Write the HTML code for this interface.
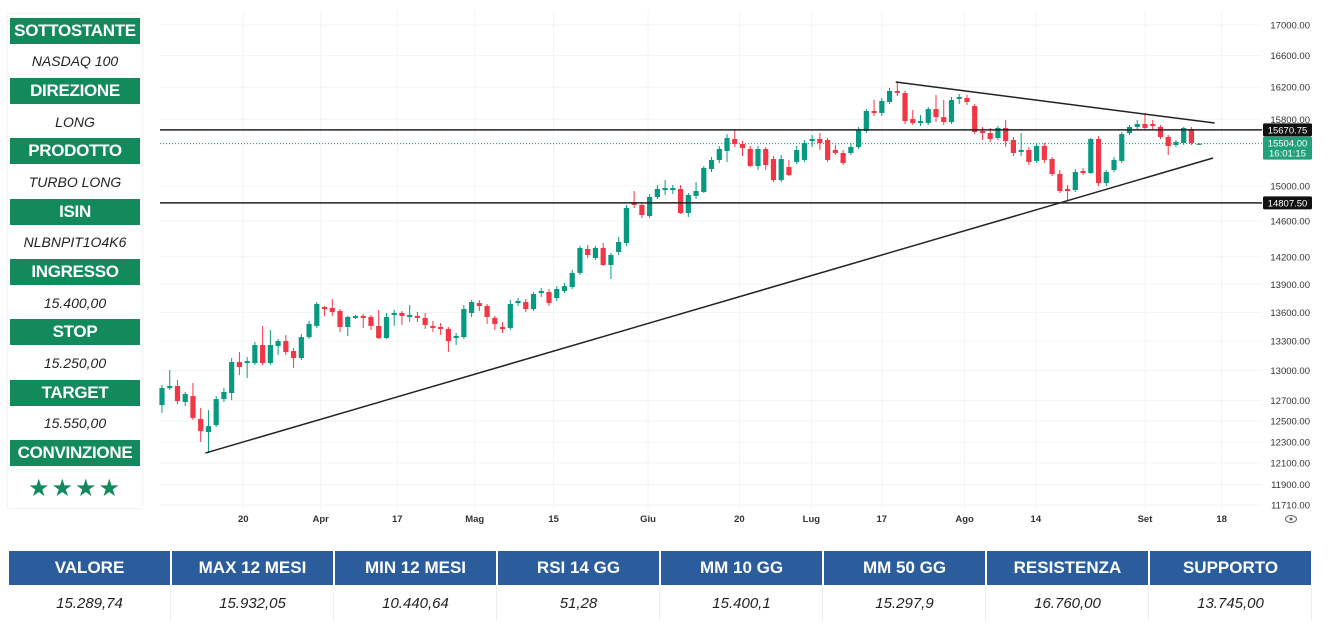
<!DOCTYPE html>
<html><head><meta charset="utf-8"><style>
body{margin:0;width:1329px;height:624px;background:#fff;overflow:hidden;font-family:"Liberation Sans",sans-serif;position:relative}
#panel{position:absolute;left:8px;top:14px;width:134px;height:494px;background:#fff;box-shadow:0 0 2px #ddd}
.ph{position:absolute;left:2px;width:130px;height:26px;background:#128a5c;color:#fff;font-weight:bold;font-size:17px;text-align:center;line-height:26px;letter-spacing:-0.3px}
.pv{position:absolute;left:2px;width:130px;height:30px;color:#222;font-style:italic;font-size:14px;text-align:center;line-height:30px}
#tbl{position:absolute;left:9px;top:551px;width:1304px}
.th{position:absolute;top:0;height:34px;width:161px;background:#2b5d9c;color:#fff;font-weight:bold;font-size:17px;text-align:center;line-height:34px}
.td{position:absolute;top:36px;height:34px;width:161px;color:#222;font-style:italic;font-size:15px;text-align:center;line-height:34px;border-right:1px solid #eee}
</style></head><body>
<div id="panel">
<div class="ph" style="top:4px">SOTTOSTANTE</div>
<div class="pv" style="top:32px">NASDAQ 100</div>
<div class="ph" style="top:64px">DIREZIONE</div>
<div class="pv" style="top:93px">LONG</div>
<div class="ph" style="top:124px">PRODOTTO</div>
<div class="pv" style="top:153px">TURBO LONG</div>
<div class="ph" style="top:185px">ISIN</div>
<div class="pv" style="top:213px">NLBNPIT1O4K6</div>
<div class="ph" style="top:245px">INGRESSO</div>
<div class="pv" style="top:274px">15.400,00</div>
<div class="ph" style="top:305px">STOP</div>
<div class="pv" style="top:334px">15.250,00</div>
<div class="ph" style="top:366px">TARGET</div>
<div class="pv" style="top:394px">15.550,00</div>
<div class="ph" style="top:426px">CONVINZIONE</div>
<div class="pv" style="top:460px;color:#128a5c;font-style:normal;font-size:24px;letter-spacing:2px">★★★★</div>
</div>

<svg id="chart" width="1329" height="540" style="position:absolute;left:0;top:0"></svg>

<div id="tbl">
<div class="th" style="left:0">VALORE</div>
<div class="th" style="left:163px">MAX 12 MESI</div>
<div class="th" style="left:326px">MIN 12 MESI</div>
<div class="th" style="left:489px">RSI 14 GG</div>
<div class="th" style="left:652px">MM 10 GG</div>
<div class="th" style="left:815px">MM 50 GG</div>
<div class="th" style="left:978px">RESISTENZA</div>
<div class="th" style="left:1141px">SUPPORTO</div>
<div class="td" style="left:0">15.289,74</div>
<div class="td" style="left:163px">15.932,05</div>
<div class="td" style="left:326px">10.440,64</div>
<div class="td" style="left:489px">51,28</div>
<div class="td" style="left:652px">15.400,1</div>
<div class="td" style="left:815px">15.297,9</div>
<div class="td" style="left:978px">16.760,00</div>
<div class="td" style="left:1141px">13.745,00</div>
</div>

<script>
const opens=[12656,12825,12845,12686,12745,12520,12394,12461,12715,12775,13086,13076,13076,13260,13076,13250,13301,13198,13127,13342,13458,13657,13647,13615,13447,13542,13563,13552,13458,13332,13573,13594,13552,13563,13542,13458,13447,13426,13332,13342,13594,13699,13668,13542,13447,13437,13699,13710,13636,13806,13817,13753,13828,13871,14023,14287,14187,14298,14110,14253,14353,14817,14783,14657,14875,14956,14956,14968,14691,14887,14933,15202,15309,15416,15560,15500,15440,15237,15440,15320,15072,15225,15285,15309,15536,15560,15548,15428,15392,15392,15464,15657,15902,15877,16013,16151,16126,15803,15754,15754,15926,15827,15767,16051,16063,15964,15657,15632,15572,15694,15548,15404,15428,15297,15476,15320,15143,14968,14956,15178,15155,15560,15037,15190,15297,15632,15706,15742,15742,15706,15584,15488,15512,15681,15500];
const highs=[12855,13005,12905,12785,12875,12627,12607,12745,12825,13127,13188,13137,13291,13458,13416,13322,13363,13229,13374,13510,13710,13668,13742,13636,13563,13573,13584,13573,13626,13594,13626,13615,13678,13605,13594,13510,13489,13447,13384,13678,13731,13731,13689,13563,13500,13731,13753,13742,13817,13860,13849,13881,13914,14056,14320,14331,14320,14353,14242,14420,14783,14944,14806,14910,15014,15072,15014,15014,14921,15049,15237,15344,15476,15620,15681,15536,15476,15476,15464,15356,15368,15309,15476,15548,15608,15632,15572,15488,15428,15512,15706,15926,16038,16063,16188,16264,16151,15914,15852,15951,16101,16038,16076,16113,16101,15988,15706,15694,15718,15791,15584,15632,15464,15512,15512,15344,15190,15014,15202,15214,15572,15596,15190,15344,15645,15730,15791,15877,15791,15730,15608,15548,15706,15706,15512];
const lows=[12578,12805,12666,12646,12510,12298,12193,12442,12686,12705,12955,12925,13056,13056,13056,13157,13157,13026,13106,13322,13437,13563,13563,13395,13353,13531,13437,13416,13322,13322,13458,13468,13500,13500,13426,13395,13363,13188,13260,13322,13552,13615,13479,13416,13384,13416,13668,13605,13615,13764,13668,13721,13806,13849,14001,14187,14165,14099,13957,14220,14320,14748,14634,14634,14852,14898,14910,14680,14645,14852,14921,15166,15273,15285,15464,15356,15225,15190,15190,15049,15049,15119,15261,15285,15464,15428,15285,15368,15249,15368,15440,15632,15840,15840,15988,16088,15742,15730,15718,15730,15767,15730,15742,15988,15976,15620,15548,15524,15548,15464,15356,15356,15249,15273,15273,15119,14921,14829,14933,15131,15143,15002,15002,15166,15273,15608,15681,15669,15669,15560,15368,15464,15488,15488,15488];
const closes=[12825,12845,12695,12765,12530,12403,12451,12715,12785,13086,13036,13096,13260,13076,13260,13301,13188,13127,13342,13479,13689,13636,13605,13447,13552,13563,13542,13458,13332,13552,13594,13563,13573,13542,13468,13437,13426,13301,13353,13636,13710,13668,13552,13479,13426,13689,13721,13636,13796,13828,13699,13849,13881,14023,14298,14220,14298,14110,14220,14364,14748,14783,14668,14875,14968,14979,14979,14691,14898,14944,15214,15309,15440,15572,15500,15452,15237,15440,15249,15072,15320,15131,15428,15512,15560,15512,15309,15392,15273,15464,15669,15902,15877,16026,16151,16126,15779,15754,15779,15926,15827,15767,16038,16076,16013,15645,15632,15560,15694,15536,15392,15428,15285,15476,15309,15143,14944,14944,15166,15155,15560,15037,15166,15309,15620,15706,15742,15694,15718,15584,15476,15524,15694,15512,15504];
const priceTicks=[17000,16600,16200,15800,15000,14600,14200,13900,13600,13300,13000,12700,12500,12300,12100,11900,11710];
const dateLabels=["20","Apr","17","Mag","15","Giu","20","Lug","17","Ago","14","Set","18"];
const dateIdx=[10.5,20.5,30.4,40.4,50.6,62.8,74.6,83.9,93,103.7,112.9,127,136.9];
const levelPrices=[15670.75,14807.5];
const lastPrice=[15504];
const trendLower=[[5.6,12193],[135.8,15332]];
const trendUpper=[[94.8,16264],[136.0,15754]];

const NS="http://www.w3.org/2000/svg";
const svg=document.getElementById('chart');
const X0=162,STEP=7.74,PL=160,PR=1262;
function x(i){return X0+i*STEP;}
function y(p){return 25+1288*Math.log(17000/p);}
function mk(t,a,parent){const e=document.createElementNS(NS,t);for(const k in a)e.setAttribute(k,a[k]);(parent||svg).appendChild(e);return e;}

priceTicks.forEach(p=>{
  const l=mk('line',{x1:PL,x2:PR,y1:y(p),y2:y(p),stroke:'#f2f3f5','stroke-width':1});
  
  
  const t=mk('text',{x:1310,y:y(p)+3.5,'text-anchor':'end','font-size':'9.5',fill:'#333'});
  t.textContent=p.toFixed(2);
  
  
});
dateIdx.forEach((d,k)=>{
  const l=mk('line',{x1:x(d),x2:x(d),y1:12,y2:510,stroke:'#f2f3f5','stroke-width':1});
  
  
  const t=mk('text',{x:x(d),y:522,'text-anchor':'middle','font-size':'9.5','font-weight':'bold',fill:'#333'});
  t.textContent=dateLabels[k];
  
  
});
const eye=mk('g',{});


mk('ellipse',{cx:1291,cy:519,rx:5.5,ry:3.5,fill:'none',stroke:'#666','stroke-width':1},eye);
mk('circle',{cx:1291,cy:519,r:1.5,fill:'#666'},eye);

const lp=mk('line',{x1:PL,x2:PR,y1:y(lastPrice[0]),y2:y(lastPrice[0]),stroke:'#089981','stroke-width':1,'stroke-dasharray':'1,2'});



for(let i=0;i<closes.length;i++){
  const up=closes[i]>=opens[i];
  const c=up?'#089981':'#f23645';
  const g=mk('g',{});
  
  
  mk('line',{x1:x(i),x2:x(i),y1:y(highs[i]),y2:y(lows[i]),stroke:c,'stroke-width':1},g);
  const t=Math.min(y(opens[i]),y(closes[i])),h=Math.max(1.2,Math.abs(y(opens[i])-y(closes[i])));
  mk('rect',{x:x(i)-2.6,y:t,width:5.2,height:h,fill:c},g);
}
levelPrices.forEach(p=>{
  const l=mk('line',{x1:PL,x2:PR,y1:y(p),y2:y(p),stroke:'#222','stroke-width':1.5});
  
  
  const r=mk('rect',{x:1263,y:y(p)-6.5,width:49,height:13,fill:'#111',rx:1.5});
  
  
  const t=mk('text',{x:1287.5,y:y(p)+3.5,'text-anchor':'middle','font-size':'9.5',fill:'#fff'});
  t.textContent=p.toFixed(2);
  
  
});
[trendLower,trendUpper].forEach((tl,k)=>{
  const l=mk('line',{x1:x(tl[0][0]),y1:y(tl[0][1]),x2:x(tl[1][0]),y2:y(tl[1][1]),stroke:'#222','stroke-width':1.5});
  
  
});
const lb=mk('rect',{x:1263,y:y(lastPrice[0])-7,width:49,height:23,fill:'#22a07a',rx:1.5});


const lt1=mk('text',{x:1287.5,y:y(lastPrice[0])+3,'text-anchor':'middle','font-size':'9.5',fill:'#fff'});
lt1.textContent=lastPrice[0].toFixed(2);


const lt2=mk('text',{x:1287.5,y:y(lastPrice[0])+13,'text-anchor':'middle','font-size':'9.5',fill:'#fff'});
lt2.textContent='16:01:15';


</script>
</body></html>
